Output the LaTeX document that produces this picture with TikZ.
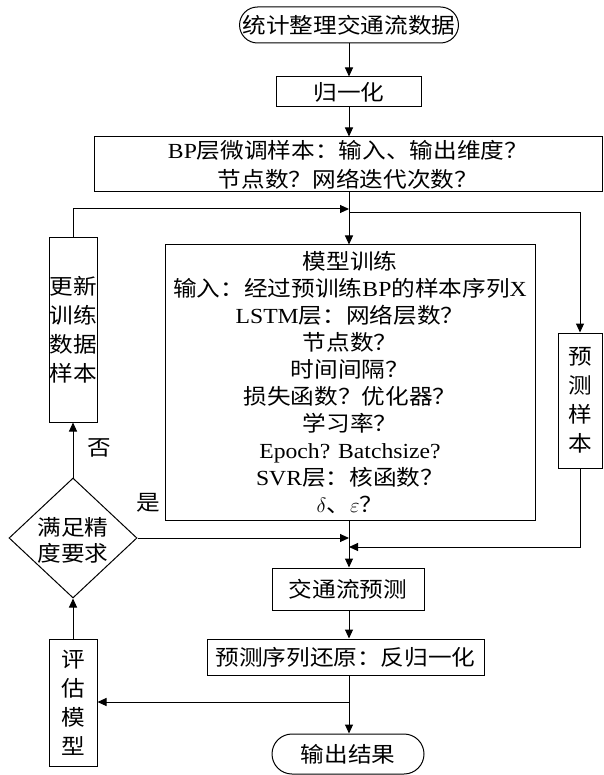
\documentclass[tikz,border=0pt]{standalone}
\usepackage{fontspec}
\setmainfont{Liberation Serif}[FakeStretch=1.1]
\newfontfamily\zh{Noto Sans CJK SC}[FakeStretch=1.1]
\usetikzlibrary{arrows.meta,shapes.misc,shapes.geometric}
\newcommand\lat[1]{{\rmfamily #1}}
\newcommand\cjkfont{\fontsize{21.5}{27}\selectfont\zh}
\newcommand\cjkwide{\fontsize{21.5}{29}\selectfont\zh}
\begin{document}
\begin{tikzpicture}[x=1pt,y=-1pt,
  line/.style={line width=1pt},
  arr/.style={line width=1pt,-{Triangle[length=9pt,width=8pt]}},
  box/.style={draw,line width=1pt,inner sep=0pt,align=center,font=\cjkfont},
  term/.style={box,rounded rectangle},
  lbl/.style={inner sep=0pt,align=center,font=\cjkfont}]
\useasboundingbox (0,0) rectangle (603,775);
% nodes
\node[term,minimum width=217pt,minimum height=36pt] (t1) at (349,25) {统计整理交通流数据};
\node[box,minimum width=145pt,minimum height=30pt] (n1) at (349,92) {归一化};
\node[box,minimum width=508pt,minimum height=55pt,font=\cjkwide] (bp) at (348,164.5)
  {\lat{BP}层微调样本：输入、输出维度？\\节点数？网络迭代次数？};
\node[box,minimum width=370pt,minimum height=275pt,font={\fontsize{21.5}{26.9}\selectfont\zh}] (model) at (350,382.5)
  {模型训练\\输入：经过预训练\lat{BP}的样本序列\lat{X}\\\lat{LSTM}层：网络层数？\\节点数？\\时间间隔？\\损失函数？优化器？\\学习率？\\\lat{Epoch? Batchsize?}\\\lat{SVR}层：核函数？\\$\delta$、$\varepsilon$？};
\node[box,minimum width=48pt,minimum height=184pt,font=\cjkwide] (upd) at (73,330) {更新\\训练\\数据\\样本};
\node[box,minimum width=44pt,minimum height=135pt,font=\cjkwide] (pred) at (580,400.5) {预\\测\\样\\本};
\node[draw,diamond,line width=1pt,minimum width=128pt,minimum height=120pt,inner sep=0pt] (dia) at (73,538) {};
\node[lbl,font={\fontsize{21.5}{26}\selectfont\zh}] (diat) at (73,540) {满足精\\度要求};
\node[box,minimum width=152pt,minimum height=42pt] (flow) at (348,589) {交通流预测};
\node[box,minimum width=277pt,minimum height=36pt] (rest) at (345.5,657) {预测序列还原：反归一化};
\node[term,minimum width=152pt,minimum height=40pt] (out) at (348,754) {输出结果};
\node[box,minimum width=48pt,minimum height=127pt,font=\cjkwide] (eval) at (73,702.5) {评\\估\\模\\型};
\node[lbl] (no) at (99,448) {否};
\node[lbl] (yes) at (148,503) {是};
% junctions
\coordinate (cx) at (349,0);
\coordinate (j1) at (349,209);
\coordinate (j2) at (349,213);
\coordinate (j3) at (349,538);
\coordinate (j4) at (349,547);
\coordinate (j5) at (349,702);
% connectors
\draw[arr] (t1.south) -- (n1.north);
\draw[arr] (n1.south) -- (n1.south |- bp.north);
\draw[arr] (cx |- bp.south) -- (cx |- model.north);
\draw[arr] (upd.north) |- (j1);
\draw[arr] (j2) -| (pred.north);
\draw[arr] (dia.north) -- (upd.south);
\draw[arr] (dia.east) -- (j3);
\draw[arr] (pred.south) |- (j4);
\draw[arr] (cx |- model.south) -- (cx |- flow.north);
\draw[arr] (cx |- flow.south) -- (cx |- rest.north);
\draw[arr] (cx |- rest.south) -- (cx |- out.north);
\draw[arr] (j5) -- (j5 -| eval.east);
\draw[arr] (eval.north) -- (dia.south);
\end{tikzpicture}
\end{document}
